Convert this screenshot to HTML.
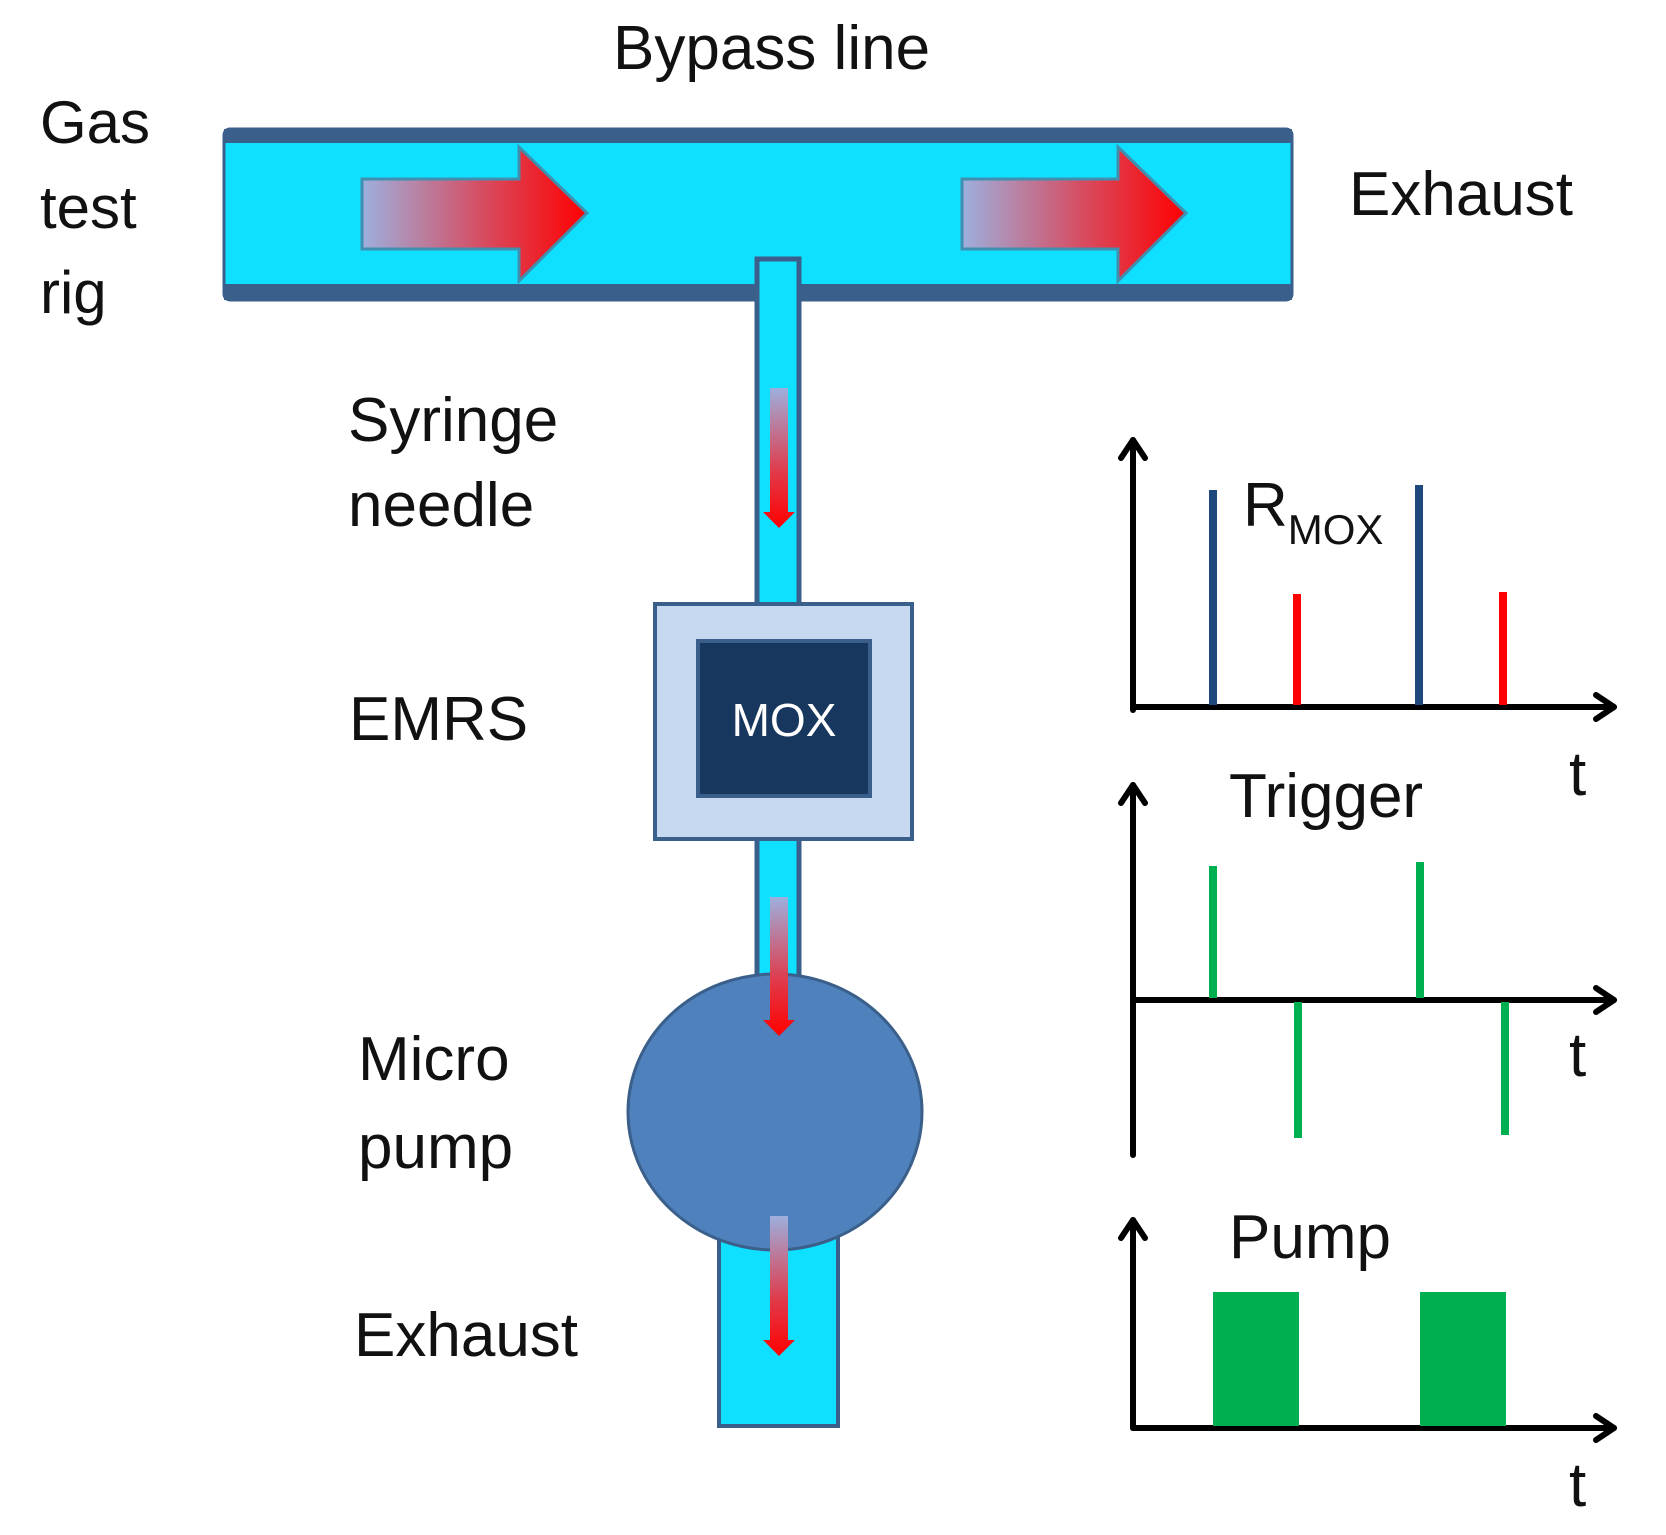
<!DOCTYPE html>
<html><head><meta charset="utf-8"><style>
html,body{margin:0;padding:0;background:#fff;}
svg{display:block;}
text{font-family:"Liberation Sans",sans-serif;fill:#111;}
</style></head><body>
<svg width="1666" height="1535" viewBox="0 0 1666 1535" xmlns="http://www.w3.org/2000/svg">
<defs>
<linearGradient id="gh" x1="0" y1="0" x2="1" y2="0">
<stop offset="0" stop-color="#9DB0DE"/><stop offset="0.55" stop-color="#D84A5E"/><stop offset="1" stop-color="#FF0000"/>
</linearGradient>
<linearGradient id="gv" x1="0" y1="0" x2="0" y2="1">
<stop offset="0" stop-color="#9DB0DE"/><stop offset="0.6" stop-color="#E03A4A"/><stop offset="1" stop-color="#FF0000"/>
</linearGradient>
</defs>

<rect x="224" y="129" width="1068" height="171" rx="6" fill="#10E0FF" stroke="#3A5F8A" stroke-width="3"/>
<rect x="224" y="129" width="1068" height="14" fill="#3A5F8A"/>
<rect x="224" y="284" width="1068" height="16" fill="#3A5F8A"/>

<polygon points="362,179 519,179 519,147 587,213 519,281 519,249 362,249" fill="url(#gh)" stroke="#3F8FB0" stroke-width="3"/>
<polygon points="962,179 1118,179 1118,147 1186,213 1118,281 1118,249 962,249" fill="url(#gh)" stroke="#3F8FB0" stroke-width="3"/>

<rect x="757" y="259" width="42" height="350" fill="#10E0FF" stroke="#3A5F8A" stroke-width="5"/>
<rect x="757" y="835" width="42" height="150" fill="#10E0FF" stroke="#3A5F8A" stroke-width="5"/>
<rect x="719" y="1180" width="119" height="246" fill="#10E0FF" stroke="#3A5F8A" stroke-width="4"/>

<rect x="655" y="604" width="257" height="235" fill="#C6D9F1" stroke="#3A5F8A" stroke-width="4"/>
<rect x="698" y="641" width="172" height="155" fill="#17375E" stroke="#3A5F8A" stroke-width="4"/>
<text x="784" y="736" font-size="46" text-anchor="middle" style="fill:#fff">MOX</text>

<ellipse cx="775" cy="1112" rx="147" ry="138" fill="#4F81BD" stroke="#3A5F8A" stroke-width="3"/>

<g fill="url(#gv)">
<polygon points="770,388 788,388 788,512 795,512 779,528 763,512 770,512"/>
<polygon points="770,897 788,897 788,1020 795,1020 779,1036 763,1020 770,1020"/>
<polygon points="770,1216 788,1216 788,1340 795,1340 779,1356 763,1340 770,1340"/>
</g>

<g font-size="62">
<text x="613" y="69">Bypass line</text>
<text x="40" y="143" font-size="60">Gas</text>
<text x="40" y="228" font-size="60">test</text>
<text x="40" y="313" font-size="60">rig</text>
<text x="1349" y="215">Exhaust</text>
<text x="348" y="441">Syringe</text>
<text x="348" y="526">needle</text>
<text x="349" y="740">EMRS</text>
<text x="358" y="1080">Micro</text>
<text x="358" y="1168">pump</text>
<text x="354" y="1356">Exhaust</text>
<text x="1243" y="526">R<tspan font-size="42" dy="18">MOX</tspan></text>
<text x="1569" y="795">t</text>
<text x="1229" y="817">Trigger</text>
<text x="1569" y="1076">t</text>
<text x="1229" y="1258">Pump</text>
<text x="1569" y="1506">t</text>
</g>

<g stroke="#000" stroke-width="6" fill="none" stroke-linecap="round" stroke-linejoin="round">
<line x1="1133" y1="710" x2="1133" y2="440"/>
<polyline points="1121,458 1133,440 1145,458"/>
<line x1="1133" y1="707" x2="1614" y2="707"/>
<polyline points="1596,695 1614,707 1596,719"/>

<line x1="1133" y1="1155" x2="1133" y2="785"/>
<polyline points="1121,803 1133,785 1145,803"/>
<line x1="1133" y1="1000" x2="1614" y2="1000"/>
<polyline points="1596,988 1614,1000 1596,1012"/>

<line x1="1133" y1="1428" x2="1133" y2="1220"/>
<polyline points="1121,1238 1133,1220 1145,1238"/>
<line x1="1133" y1="1428" x2="1614" y2="1428"/>
<polyline points="1596,1416 1614,1428 1596,1440"/>
</g>

<g stroke-width="8">
<line x1="1213" y1="490" x2="1213" y2="705" stroke="#1F497D"/>
<line x1="1297" y1="594" x2="1297" y2="705" stroke="#FF0000"/>
<line x1="1419" y1="485" x2="1419" y2="705" stroke="#1F497D"/>
<line x1="1503" y1="592" x2="1503" y2="705" stroke="#FF0000"/>
</g>
<g stroke="#00B050" stroke-width="8">
<line x1="1213" y1="866" x2="1213" y2="998"/>
<line x1="1298" y1="1002" x2="1298" y2="1138"/>
<line x1="1420" y1="862" x2="1420" y2="998"/>
<line x1="1505" y1="1002" x2="1505" y2="1135"/>
</g>
<rect x="1213" y="1292" width="86" height="134" fill="#00B050"/>
<rect x="1420" y="1292" width="86" height="134" fill="#00B050"/>
</svg>
</body></html>
